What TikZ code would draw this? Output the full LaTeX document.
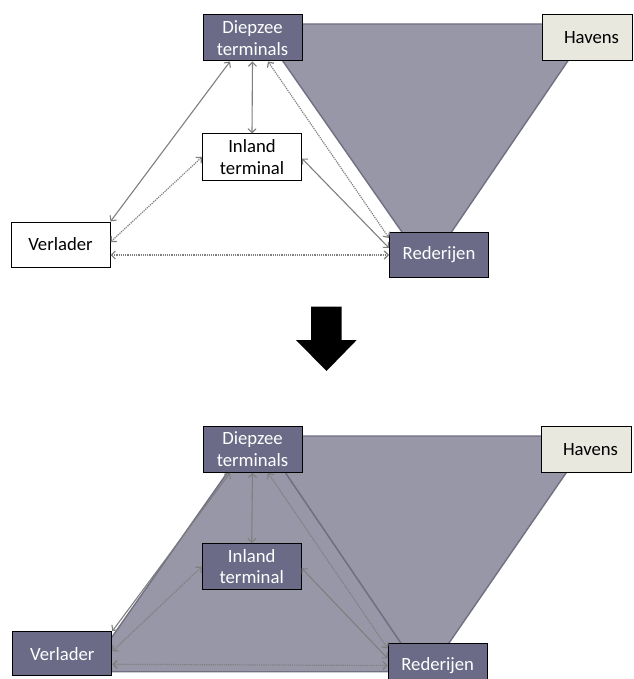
\documentclass[tikz,border=0pt]{standalone}
\usepackage{fontspec}
\setmainfont{Carlito}
\usetikzlibrary{arrows.meta,calc}
\pgfdeclarelayer{background}
\pgfsetlayers{background,main}
\definecolor{boxdark}{HTML}{6B6B88}
\definecolor{shapefill}{HTML}{9797A8}
\definecolor{shapeedge}{HTML}{707082}
\definecolor{havensfill}{HTML}{E8E8DE}
\definecolor{arrowgray}{HTML}{7F7F7F}
\tikzset{
  box/.style={draw=black, line width=1pt, minimum width=99pt, minimum height=46pt,
    inner sep=0pt, align=center, font=\fontsize{18.7}{21.7}\selectfont},
  darknode/.style={box, fill=boxdark, text=white},
  lightnode/.style={box, fill=white, text=black},
  havnode/.style={box, fill=havensfill, text=black, minimum width=90pt},
  region/.style={fill=shapefill, draw=shapeedge, line width=1.4pt, line join=round},
  link/.style={draw=arrowgray, line width=1.1pt,
    {Straight Barb[length=4pt,width=8pt]}-{Straight Barb[length=4pt,width=8pt]}},
  dotlink/.style={link, line width=1.2pt, dash pattern=on 1.2pt off 1pt},
  bigarrow/.style={fill=black, draw=none}
}
\begin{document}
\begin{tikzpicture}[x=1pt,y=-1pt]
\clip (0,0) rectangle (633,679);

% ---------- top diagram ----------
\node[darknode] (D1) at (252.5,38) {Diepzee\\terminals};
\node[havnode] (H1) at (587,38) {\hspace*{9pt}Havens};
\node[lightnode] (I1) at (252,157) {Inland\\terminal};
\node[darknode, minimum height=45pt] (R1) at (439,255) {Rederijen};
\node[lightnode, minimum height=45pt] (V1) at (60.5,244.5) {Verlader};

\begin{pgfonlayer}{background}
  \fill[white] (0,0) rectangle (633,679);
  \draw[region] (257,24) -- (593,24) -- (427,268) -- cycle;
\end{pgfonlayer}

\draw[link] (D1.south) -- (I1.north);
\draw[link] ([xshift=-22.5pt]D1.south) -- (V1.north east);
\draw[dotlink] (I1.west) -- ([yshift=2.5pt]V1.east);
\draw[dotlink] ([yshift=-10.5pt]V1.east) -- (R1.west);
\draw[link] ([yshift=-1.5pt]I1.east) -- ([yshift=7pt]R1.west);
\draw[dotlink] ([xshift=15.5pt]D1.south) -- ([yshift=17pt]R1.west);

% ---------- big arrow ----------
\fill[bigarrow] (311,306.7) -- (341.5,306.7) -- (341.5,340) -- (356.7,340)
  -- (326.5,371) -- (296,340) -- (311,340) -- cycle;

% ---------- bottom diagram ----------
\node[darknode] (D2) at (252.5,449.3) {Diepzee\\terminals};
\node[havnode] (H2) at (586,449.6) {\hspace*{9pt}Havens};
\node[darknode] (I2) at (251.7,566.7) {Inland\\terminal};
\node[darknode, minimum height=45pt] (R2) at (437.7,665.5) {Rederijen};
\node[darknode, minimum height=44.3pt] (V2) at (62.3,653.8) {Verlader};

\begin{pgfonlayer}{background}
  \draw[region] (253,436) -- (87.6,671.7) -- (420.4,671.7) -- (260.6,436) -- cycle;
  \draw[region] (260.6,436) -- (591.5,436) -- (424.8,678.2) -- cycle;
\end{pgfonlayer}

\draw[link] (D2.south) -- (I2.north);
\draw[link] ([xshift=-22.5pt]D2.south) -- (V2.north east);
\draw[dotlink] (I2.west) -- ([yshift=2.5pt]V2.east);
\draw[dotlink] ([yshift=-10.5pt]V2.east) -- (R2.west);
\draw[link] ([yshift=-1.5pt]I2.east) -- ([yshift=7pt]R2.west);
\draw[dotlink] ([xshift=15.5pt]D2.south) -- ([yshift=17pt]R2.west);
\end{tikzpicture}
\end{document}
